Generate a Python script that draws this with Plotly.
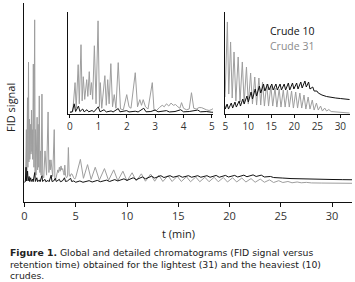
import plotly.graph_objects as go

# ---------------- data (retention time in min, FID signal in arbitrary units) ----------------
crude31_t = [0.00, 0.10, 0.18, 0.22, 0.29, 0.33, 0.39, 0.43, 0.47, 0.52, 0.59, 0.63, 0.68, 0.72,
             0.76, 0.80, 0.86, 0.92, 0.99, 1.04, 1.07, 1.12, 1.23, 1.28, 1.33, 1.38, 1.44, 1.50,
             1.56, 1.62, 1.70, 1.78, 1.88, 2.00, 2.08, 2.15, 2.30, 2.38, 2.46, 2.52, 2.58, 2.66,
             2.75, 2.90, 2.96, 3.05, 3.15, 3.25, 3.32, 3.40, 3.48, 3.56, 3.64, 3.72, 3.80, 3.87,
             3.93, 4.00, 4.10, 4.20, 4.28, 4.36, 4.45, 4.55, 4.64, 4.72, 4.80, 4.90,
             5.00, 5.45, 5.75, 6.15, 6.50, 6.90, 7.30, 7.80, 8.20, 8.70, 9.10, 9.60, 10.00, 10.50,
             10.90, 11.40, 11.80, 12.30, 12.70, 13.10, 13.50, 14.00, 14.40, 14.90, 15.30, 15.80,
             16.20, 16.70, 17.10, 17.60, 18.00, 18.50, 18.90, 19.40, 19.80, 20.30, 20.70, 21.20,
             21.60, 22.10, 22.50, 23.00, 23.40, 23.90, 24.30, 24.80, 25.20, 25.70, 26.10, 26.60,
             27.00, 27.50, 28.00, 29.00, 30.00, 32.00]
crude31_v = [5, 8, 203, 30, 324, 60, 459, 80, 243, 90, 223, 110, 277, 120,
             203, 90, 452, 60, 620, 40, 203, 30, 250, 50, 223, 60, 331, 40,
             122, 30, 338, 25, 20, 122, 40, 30, 270, 40, 88, 50, 88, 40,
             25, 203, 20, 15, 35, 50, 40, 60, 45, 65, 50, 55, 40, 30,
             68, 30, 20, 25, 135, 30, 25, 35, 34, 25, 20, 15,
             22, 90, 18, 70, 14, 60, 11, 55, 10, 50, 9, 45, 8, 39,
             8, 35, 7, 34, 7, 30, 6, 28, 6, 26, 6, 24,
             5, 23, 5, 22, 5, 22, 5, 21, 4, 20, 4, 19,
             4, 17, 3, 15, 3, 12, 2, 9, 2, 6, 1, 4,
             1, 2.5, 0.5, 0, -0.5, -1]

crude10_t = [0.00, 0.08, 0.15, 0.20, 0.30, 0.35, 0.45, 0.50, 0.60, 0.66, 0.78, 0.84, 1.00, 1.06,
             1.20, 1.28, 1.45, 1.52, 1.70, 1.76, 2.00, 2.08, 2.30, 2.40, 2.60, 2.68, 2.85, 3.00,
             3.10, 3.40, 3.50, 3.70, 3.90, 4.00, 4.20, 4.50, 4.60, 4.80,
             5.00, 5.40, 5.70, 6.30, 6.60, 7.10, 7.40, 8.00, 8.30, 8.80, 9.10, 9.70, 10.00, 10.60,
             10.90, 11.50, 11.80, 12.40, 12.70, 13.30, 13.60, 14.20, 14.50, 15.10, 15.40, 16.00,
             16.30, 16.90, 17.20, 17.80, 18.10, 18.70, 19.00, 19.60, 19.90, 20.50, 20.80, 21.40,
             21.70, 22.30, 22.60, 23.10, 23.40, 24.00, 24.30, 24.90, 25.20, 26.00, 27.00, 28.00,
             29.00, 30.00, 31.00, 32.00]
crude10_v = [3, 5, 60, 8, 45, 8, 25, 6, 20, 6, 15, 5, 40, 6,
             20, 5, 12, 5, 28, 6, 14, 5, 10, 5, 30, 6, 8, 18,
             6, 14, 5, 8, 20, 6, 8, 18, 6, 8,
             3, 8, 3, 9, 4, 10, 5, 11, 6, 13, 8, 16, 10, 20,
             13, 23, 16, 26, 19, 28, 21, 28, 22, 28, 22, 28,
             22, 28, 22, 28, 22, 29, 22, 29, 23, 29, 23, 30,
             24, 31, 25, 30, 23, 25, 21, 21, 19, 17, 15.5, 14.5,
             14, 13.5, 13, 12.5]

main_ticks = [0, 5, 10, 15, 20, 25, 30]
inset1_ticks = [0, 1, 2, 3, 4, 5]
inset2_ticks = [5, 10, 15, 20, 25, 30]

caption_lines = [
    "<b>Figure 1.</b> Global and detailed chromatograms (FID signal versus",
    "retention time) obtained for the lightest (31) and the heaviest (10)",
    "crudes.",
]

series = [("Crude 31", crude31_t, crude31_v, "#9e9e9e"),
          ("Crude 10", crude10_t, crude10_v, "#111111")]

FONT = "Open Sans"
CAP_FONT = "DejaVu Sans"
fig = go.Figure()
for ax_x, ax_y in [("x", "y"), ("x2", "y2"), ("x3", "y3")]:
    for name, t, v, col in series:
        fig.add_trace(go.Scatter(x=t, y=v, mode="lines", name=name, showlegend=False,
                                 line=dict(color=col, width=1), xaxis=ax_x, yaxis=ax_y,
                                 hoverinfo="skip"))

axis_common = dict(showline=True, linecolor="#111", linewidth=1, showgrid=False,
                   zeroline=False, mirror=False, automargin=False)

fig.update_layout(
    width=355, height=282,
    margin=dict(l=24, r=3, t=3, b=80),
    paper_bgcolor="white", plot_bgcolor="rgba(0,0,0,0)",
    font=dict(family=FONT, color="#222"),
    xaxis=dict(domain=[0, 1], range=[-0.05, 31.95], tickvals=main_ticks, ticks="outside",
               ticklen=4, tickcolor="#111", tickfont=dict(size=11, color="#333"), **axis_common),
    yaxis=dict(domain=[0, 1], range=[-72, 684], showticklabels=False, ticks="", **axis_common),
    xaxis2=dict(domain=[0.134, 0.576], range=[-0.07, 5.035], anchor="y2", tickvals=inset1_ticks,
                ticks="outside", ticklen=3, tickcolor="#111", tickfont=dict(size=10, color="#333"),
                **axis_common),
    yaxis2=dict(domain=[0.442, 0.955], range=[-9, 680], anchor="x2", showticklabels=False,
                ticks="", **axis_common),
    xaxis3=dict(domain=[0.613, 0.994], range=[4.95, 32.1], anchor="y3", tickvals=inset2_ticks,
                ticks="outside", ticklen=3, tickcolor="#111", tickfont=dict(size=10, color="#333"),
                **axis_common),
    yaxis3=dict(domain=[0.442, 0.955], range=[-2, 100], anchor="x3", showticklabels=False,
                ticks="", **axis_common),
    showlegend=False,
)

ann = [
    dict(text="t (min)", x=0.47, y=-0.156, xref="paper", yref="paper", showarrow=False,
         font=dict(size=11, color="#222", family=FONT), xanchor="center", yanchor="middle"),
    dict(text="FID signal", x=-0.043, y=0.477, xref="paper", yref="paper", showarrow=False,
         textangle=-90, font=dict(size=11, color="#222", family=FONT),
         xanchor="center", yanchor="middle"),
    dict(text="Crude 10", x=0.747, y=(202 - 31) / 199, xref="paper", yref="paper",
         showarrow=False, borderpad=0,
         font=dict(size=10.5, color="#111", family=FONT), xanchor="left", yanchor="middle"),
    dict(text="Crude 31", x=0.747, y=(202 - 46) / 199, xref="paper", yref="paper",
         showarrow=False, borderpad=0,
         font=dict(size=10.5, color="#8a8a8a", family=FONT), xanchor="left", yanchor="middle"),
]
# caption lines at pixel rows 252, 264, 275 (plot area spans px 3..202)
for i, py in enumerate([252, 264, 275]):
    ann.append(dict(text=caption_lines[i], x=(9 - 24) / 328, y=(202 - py) / 199,
                    xref="paper", yref="paper", borderpad=0,
                    showarrow=False, align="left", xanchor="left", yanchor="middle",
                    font=dict(size=9.3, color="#222", family=CAP_FONT)))
fig.update_layout(annotations=ann)

fig.write_html("out.html", config={"displayModeBar": False},
               post_script="document.body.style.margin='0';document.body.style.padding='0';")
